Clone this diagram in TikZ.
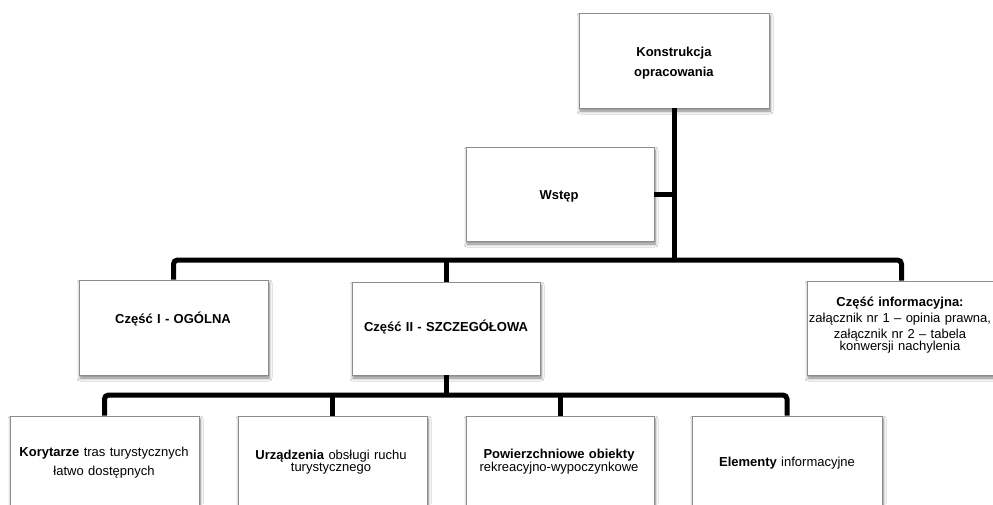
\documentclass[tikz,border=0pt]{standalone}
\usepackage{fontspec}
\setmainfont{Liberation Sans}
\usetikzlibrary{shadows.blur}
\tikzset{
  box/.style={draw=black!45, line width=0.8pt, fill=white, inner sep=0pt,
    blur shadow={shadow xshift=1pt, shadow yshift=-3pt, shadow blur radius=3pt, shadow blur steps=8, shadow opacity=50}},
  lbl/.style={font=\fontsize{13}{#1}\selectfont, align=center, text width=200pt, anchor=base, inner sep=0pt},
  lbl/.default=16pt,
  conn/.style={line width=5pt, rounded corners=4pt, black}
}
\begin{document}
\begin{tikzpicture}[x=1pt,y=-1pt]
\useasboundingbox (0,0) rectangle (993,504);
\clip (0,0) rectangle (993,504);
\fill[white] (0,0) rectangle (993,504);
% boxes
\node[box, minimum width=190pt, minimum height=95pt] (konst) at (674,60.5) {};
\node[box, minimum width=188pt, minimum height=94pt] (wstep) at (560,194) {};
\node[box, minimum width=189pt, minimum height=95pt] (cz1) at (173.5,327.5) {};
\node[box, minimum width=188pt, minimum height=93pt] (cz2) at (446,328.5) {};
\node[box, minimum width=189pt, minimum height=94pt] (info) at (901.5,328) {};
\node[box, minimum width=189pt, minimum height=120pt] (kor) at (104.5,476) {};
\node[box, minimum width=189pt, minimum height=120pt] (urz) at (332.5,476) {};
\node[box, minimum width=188pt, minimum height=120pt] (pow) at (560,476) {};
\node[box, minimum width=190pt, minimum height=120pt] (ele) at (787,476) {};
% bus levels
\coordinate (b1) at (0,260);
\coordinate (b2) at (0,395);
% connectors
\draw[conn] (konst.south) -- (konst.south |- b1);
\draw[conn] (wstep.east) -- (konst.south |- wstep.east);
\draw[conn] (cz1.north) |- (info.north |- b1) -- (info.north);
\draw[conn] (cz2.north) -- (cz2.north |- b1);
\draw[conn] (cz2.south) -- (cz2.south |- b2);
\draw[conn] (kor.north) |- (ele.north |- b2) -- (ele.north);
\draw[conn] (urz.north) -- (urz.north |- b2);
\draw[conn] (pow.north) -- (pow.north |- b2);
% texts
\node[lbl=20pt] (konstt) at (674,56) {\textbf{Konstrukcja}\\\textbf{opracowania}};
\node[lbl] (wstept) at (559,199) {\textbf{Wstęp}};
\node[lbl] (cz1t) at (173,323) {\textbf{Część I - OGÓLNA}};
\node[lbl] (cz2t) at (446,331) {\textbf{Część II - SZCZEGÓŁOWA}};
\node[lbl=16pt] (infot) at (900,306) {\textbf{Część informacyjna:}\\załącznik nr 1 – opinia prawna,\\załącznik nr 2 – tabela\\[-4pt]konwersji nachylenia};
\node[lbl=19.5pt] (kort) at (104,456) {\textbf{Korytarze} tras turystycznych\\łatwo dostępnych};
\node[lbl=12pt] (urzt) at (331,459) {\textbf{Urządzenia} obsługi ruchu\\turystycznego};
\node[lbl=12pt] (powt) at (559,458) {\textbf{Powierzchniowe obiekty}\\rekreacyjno-wypoczynkowe};
\node[lbl] (elet) at (787,466) {\textbf{Elementy} informacyjne};
\end{tikzpicture}
\end{document}
